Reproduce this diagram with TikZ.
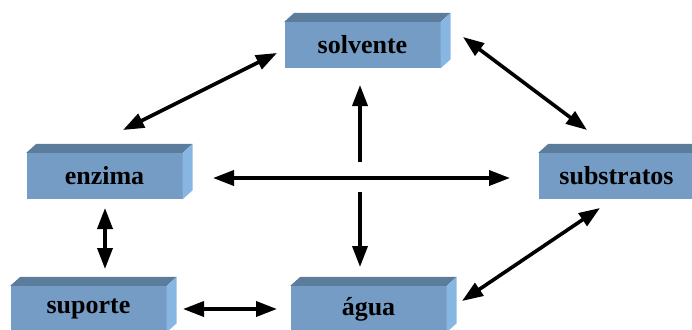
\documentclass[tikz,border=0pt]{standalone}
\usepackage{fontspec}
\setmainfont{Liberation Serif}
\usetikzlibrary{arrows.meta}

\definecolor{boxfront}{RGB}{116,156,197}
\definecolor{boxtop}{RGB}{92,124,156}
\definecolor{boxside}{RGB}{136,182,226}

\tikzset{
  block/.style={rectangle, fill=boxfront, minimum width=156pt, minimum height=46pt,
    inner sep=0pt, font=\fontsize{26}{28}\selectfont\bfseries},
  link/.style={line width=3.6pt, -{Triangle[length=21pt,width=15pt]}},
  twolink/.style={line width=3.6pt, {Triangle[length=21pt,width=15pt]}-{Triangle[length=21pt,width=15pt]}}
}

% top and right faces of a block, set back up and to the right
\newcommand{\blockfaces}[1]{%
  \fill[boxtop] (#1.north west) -- ++(10pt,9pt) -- ([shift={(10pt,9pt)}]#1.north east) -- (#1.north east) -- cycle;
  \fill[boxside] (#1.north east) -- ++(10pt,9pt) -- ([shift={(10pt,9pt)}]#1.south east) -- (#1.south east) -- cycle;
}

\begin{document}
\begin{tikzpicture}[x=1pt, y=-1pt]
  \useasboundingbox (0,0) rectangle (692,329);

  \node[block] (solvente)   at (362.5,45)  {solvente};
  \node[block] (enzima)     at (104.5,176) {enzima};
  \node[block] (substratos) at (616.5,176) {substratos};
  \node[block] (suporte)    at (88.5,309)  {suporte};
  \node[block] (agua)       at (368.5,309) {água};

  \foreach \b in {solvente,enzima,substratos,suporte,agua}{\blockfaces{\b}}

  % connector ends, placed in the gaps around the blocks
  \coordinate (es1) at (123,130);  \coordinate (es2) at (277,53);
  \coordinate (ss1) at (463,37);   \coordinate (ss2) at (587,130);
  \coordinate (sa1) at (600,208);  \coordinate (sa2) at (462,301);
  \coordinate (ep1) at (105,208);  \coordinate (ep2) at (105,269);
  \coordinate (pa1) at (183,309);  \coordinate (pa2) at (277,309);
  \coordinate (h1)  at (213,178);  \coordinate (h2)  at (510,178);
  \coordinate (up0) at (360,162);  \coordinate (up1) at (360,85);
  \coordinate (dn0) at (360,192);  \coordinate (dn1) at (360,267);

  \draw[twolink] (es1) -- (es2);
  \draw[twolink] (ss1) -- (ss2);
  \draw[twolink] (sa1) -- (sa2);
  \draw[twolink] (ep1) -- (ep2);
  \draw[twolink] (pa1) -- (pa2);
  \draw[twolink] (h1) -- (h2);
  \draw[link] (up0) -- (up1);
  \draw[link] (dn0) -- (dn1);
\end{tikzpicture}
\end{document}
